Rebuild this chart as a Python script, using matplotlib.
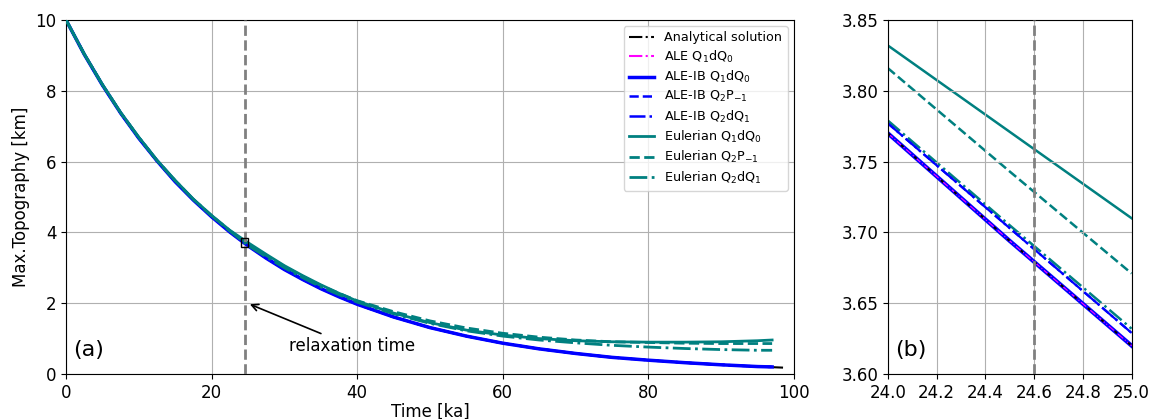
import matplotlib.pyplot as plt
from matplotlib.patches import Rectangle

# Main panel data (time in ka, max topography in km)
t_ana = [0, 2.5, 5, 7.5, 10, 12.5, 15, 17.5, 20, 22.5, 25, 27.5, 30, 32.5, 35, 37.5, 40,
         45, 50, 55, 60, 65, 70, 75, 80, 85, 90, 95, 98.5]
h_ana = [10.0, 9.03, 8.16, 7.37, 6.66, 6.02, 5.43, 4.91, 4.44, 4.01, 3.62, 3.27, 2.95, 2.67,
         2.41, 2.18, 1.97, 1.61, 1.31, 1.07, 0.87, 0.71, 0.58, 0.47, 0.39, 0.32, 0.26, 0.21, 0.18]

t_num = [0, 2.5, 5, 7.5, 10, 12.5, 15, 17.5, 20, 22.5, 25, 27.5, 30, 32.5, 35, 37.5, 40,
         45, 50, 55, 60, 65, 70, 75, 80, 85, 90, 95, 97]
h_ale = [10.0, 9.03, 8.16, 7.37, 6.66, 6.02, 5.43, 4.91, 4.44, 4.01, 3.62, 3.27, 2.95, 2.67,
         2.41, 2.18, 1.97, 1.61, 1.31, 1.07, 0.87, 0.71, 0.58, 0.47, 0.39, 0.32, 0.26, 0.21, 0.20]
h_aleib_q1 = h_ale
h_aleib_q2p = [10.0, 9.03, 8.16, 7.37, 6.66, 6.02, 5.44, 4.92, 4.45, 4.02, 3.63, 3.28, 2.96, 2.68,
               2.42, 2.19, 1.97, 1.61, 1.31, 1.07, 0.87, 0.71, 0.58, 0.47, 0.39, 0.32, 0.26, 0.21, 0.20]
h_aleib_q2d = h_aleib_q2p
h_eul_q1 = [10.0, 9.04, 8.18, 7.39, 6.69, 6.04, 5.47, 4.94, 4.48, 4.06, 3.71, 3.38, 3.06, 2.78,
            2.52, 2.28, 2.06, 1.72, 1.45, 1.24, 1.10, 1.00, 0.94, 0.91, 0.90, 0.90, 0.91, 0.94, 0.96]
h_eul_q2p = [10.0, 9.04, 8.17, 7.38, 6.68, 6.03, 5.46, 4.93, 4.47, 4.05, 3.67, 3.35, 3.04, 2.76,
             2.50, 2.28, 2.07, 1.76, 1.50, 1.30, 1.15, 1.04, 0.96, 0.91, 0.89, 0.87, 0.86, 0.86, 0.86]
h_eul_q2d = [10.0, 9.04, 8.17, 7.38, 6.68, 6.03, 5.46, 4.93, 4.47, 4.04, 3.63, 3.31, 3.00, 2.72,
             2.46, 2.24, 2.03, 1.70, 1.43, 1.22, 1.07, 0.96, 0.88, 0.81, 0.76, 0.72, 0.69, 0.67, 0.67]

# Zoomed panel data
t_in = [24.0, 24.5, 25.0]
z_ana = [3.770, 3.694, 3.620]
z_ale = [3.770, 3.694, 3.620]
z_aleib_q1 = [3.770, 3.694, 3.620]
z_aleib_q2p = [3.777, 3.703, 3.629]
z_aleib_q2d = [3.777, 3.703, 3.629]
z_eul_q1 = [3.832, 3.771, 3.710]
z_eul_q2p = [3.816, 3.743, 3.671]
z_eul_q2d = [3.779, 3.705, 3.632]

t_relax = 24.6

labels = ['Analytical solution', 'ALE Q$_1$dQ$_0$', 'ALE-IB Q$_1$dQ$_0$', 'ALE-IB Q$_2$P$_{-1}$',
          'ALE-IB Q$_2$dQ$_1$', 'Eulerian Q$_1$dQ$_0$', 'Eulerian Q$_2$P$_{-1}$', 'Eulerian Q$_2$dQ$_1$']
colors = ['black', 'magenta', 'blue', 'blue', 'blue', 'teal', 'teal', 'teal']
styles = ['-.', '-.', '-', '--', '-.', '-', '--', '-.']
widths = [1.5, 1.5, 2.5, 1.8, 1.8, 2, 2, 2]
z_main = [1, 1.5, 2, 2.1, 2.2, 3, 3.1, 3.2]

# inset: thin analytical / ALE lines drawn over the thick ALE-IB line
in_styles = [(0, (1.5, 7)), (0, (6, 2, 1, 2)), '-', '--', '-.', '-', '--', '-.']
in_widths = [1.5, 0.8, 3, 1.6, 1.6, 1.8, 1.8, 1.8]
z_inset = [4, 3.5, 2, 2.1, 2.2, 1, 1.1, 1.2]

fig = plt.figure(figsize=(11.5, 4.19), dpi=100)
ax1 = fig.add_axes([0.0574, 0.1074, 0.633, 0.845])
ax2 = fig.add_axes([0.772, 0.1074, 0.212, 0.845])

main_series = [(t_ana, h_ana), (t_num, h_ale), (t_num, h_aleib_q1), (t_num, h_aleib_q2p),
               (t_num, h_aleib_q2d), (t_num, h_eul_q1), (t_num, h_eul_q2p), (t_num, h_eul_q2d)]
zoom_series = [z_ana, z_ale, z_aleib_q1, z_aleib_q2p, z_aleib_q2d, z_eul_q1, z_eul_q2p, z_eul_q2d]

for (t, h), lab, c, ls, lw, zo in zip(main_series, labels, colors, styles, widths, z_main):
    ax1.plot(t, h, color=c, linestyle=ls, linewidth=lw, label=lab, zorder=zo)
for z, c, ls, lw, zo in zip(zoom_series, colors, in_styles, in_widths, z_inset):
    ax2.plot(t_in, z, color=c, linestyle=ls, linewidth=lw, zorder=zo)

for ax in (ax1, ax2):
    ax.axvline(t_relax, color='grey', linestyle='--', linewidth=2, zorder=5)
    ax.grid(True)
    ax.tick_params(labelsize=12)

ax1.add_patch(Rectangle((24.0, 3.6), 1.0, 0.25, fill=False, edgecolor='black', linewidth=1, zorder=6))

ax1.set_xlim(0, 100)
ax1.set_ylim(0, 10)
ax1.set_xlabel('Time [ka]', fontsize=12, labelpad=1)
ax1.set_ylabel('Max.Topography [km]', fontsize=12)
ax1.annotate('relaxation time', xy=(24.9, 2.0), xytext=(39.3, 0.78), fontsize=12,
             ha='center', va='center',
             arrowprops=dict(arrowstyle='->', color='black', linewidth=1.2))
ax1.text(0.01, 0.05, '(a)', transform=ax1.transAxes, fontsize=16)
ax1.legend(loc='upper right', fontsize=9.2, labelspacing=0.33)

ax2.set_xlim(24.0, 25.0)
ax2.set_ylim(3.60, 3.85)
ax2.set_xticks([24.0, 24.2, 24.4, 24.6, 24.8, 25.0])
ax2.set_yticks([3.60, 3.65, 3.70, 3.75, 3.80, 3.85])
ax2.set_yticklabels(['3.60', '3.65', '3.70', '3.75', '3.80', '3.85'])
ax2.text(0.03, 0.05, '(b)', transform=ax2.transAxes, fontsize=16)

plt.savefig('out.png', dpi=100)
